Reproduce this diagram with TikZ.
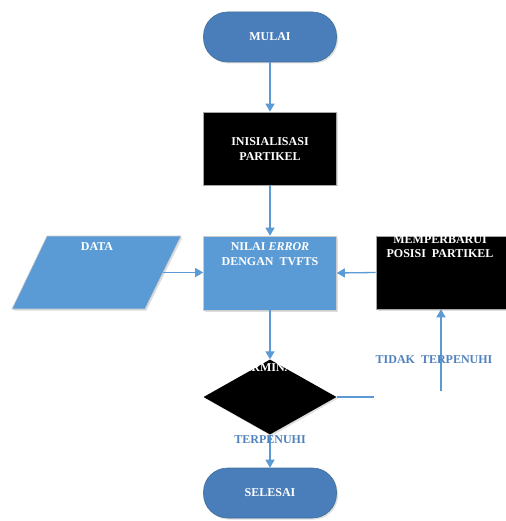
\documentclass[tikz,border=0pt]{standalone}
\usepackage{fontspec}
\setmainfont{Liberation Serif}
\usetikzlibrary{shapes.geometric,arrows.meta,shadows}
\definecolor{termblue}{HTML}{4A7EBB}
\definecolor{boxblue}{HTML}{5B9BD5}
\definecolor{edgeblue}{HTML}{41719C}
\definecolor{lineblue}{HTML}{5B9BD5}
\definecolor{labelblue}{HTML}{4F81BD}
\tikzset{
  x=1pt, y=-1pt,
  txt/.style={font=\fontsize{12}{15}\selectfont\bfseries, text=white, align=center, inner sep=0pt},
  shad/.style={drop shadow={opacity=0.25, shadow xshift=1.5pt, shadow yshift=-1.5pt}},
  terminal/.style={shape=rectangle, rounded corners=24pt, minimum width=133pt, minimum height=50pt,
    fill=termblue, draw=edgeblue, line width=0.6pt, shad, txt},
  blackbox/.style={shape=rectangle, minimum width=133pt, minimum height=73pt, fill=black,
    draw=black!35, line width=0.6pt, shad, inner sep=0pt},
  bluebox/.style={shape=rectangle, minimum width=133pt, minimum height=74pt, fill=boxblue,
    draw=black!20, line width=0.6pt, shad, inner sep=0pt},
  decision/.style={shape=diamond, minimum width=133pt, minimum height=75pt, fill=black,
    draw=none, inner sep=0pt, shad},
  flow/.style={draw=lineblue, line width=1.3pt, -{Triangle[width=9pt,length=8pt]}},
  plain/.style={draw=lineblue, line width=1.3pt},
  lbl/.style={font=\fontsize{12}{14}\selectfont\bfseries, text=labelblue, inner sep=0pt}
}
\begin{document}
\begin{tikzpicture}
\useasboundingbox (0,0) rectangle (505,521);
% shapes
\node[terminal] (mulai) at (270,37) {MULAI};
\node[blackbox] (init) at (270,148.5) {};
\node[txt] (initT) at (270,149) {INISIALISASI\\PARTIKEL};
\node[bluebox] (nilai) at (270,273) {};
\node[txt, anchor=north] (nilaiT) at (270,242) {NILAI \textit{ERROR}\\DENGAN\ \ TVFTS};
\fill[boxblue, draw=black!20, line width=0.6pt, shad] (47,236) -- (181,236) -- (145,309) -- (12,309) -- cycle;
\node[txt] (dataT) at (97,247) {DATA};
\coordinate (dataR) at (163,272.5);
\node[blackbox, minimum width=132pt, minimum height=73pt] (update) at (442,272.5) {};
\node[txt, anchor=north, font=\fontsize{12}{14}\selectfont\bfseries] (updateT) at (440,235) {MEMPERBARUI\\POSISI\ \ PARTIKEL};
\node[decision] (term) at (270,397) {};
\node[txt] (termT) at (270,368) {TERMINASI};
\node[terminal] (selesai) at (270,493) {SELESAI};
% connectors
\draw[flow] (mulai.south) -- (init.north);
\draw[flow] (init.south) -- (nilai.north);
\draw[flow] (dataR) -- (nilai.west |- dataR);
\draw[flow] (update.west) -- (nilai.east);
\draw[flow] (nilai.south) -- (term.north);
\coordinate (hEnd) at (374,397);
\draw[plain] (term.east) -- (hEnd);
\coordinate (upStart) at (441,391);
\draw[flow] (upStart) -- (upStart |- update.south);
\draw[flow] (term.south) -- (selesai.north);
% labels
\node[lbl] (tidak) at (434,360) {TIDAK\ \ TERPENUHI};
\node[lbl] (penuhi) at (270,440) {TERPENUHI};
\end{tikzpicture}
\end{document}
